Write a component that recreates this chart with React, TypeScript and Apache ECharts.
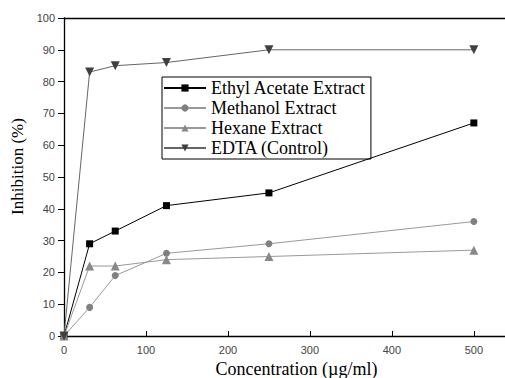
import React, { useEffect, useRef } from "react";
import * as echarts from "echarts";

const concentrations = [0, 31.25, 62.5, 125, 250, 500];
const ethylAcetate = [0, 29, 33, 41, 45, 67];
const methanol = [0, 9, 19, 26, 29, 36];
const hexane = [0, 22, 22, 24, 25, 27];
const edta = [0, 83, 85, 86, 90, 90];
const xTicks = [0, 100, 200, 300, 400, 500];

const pairs = (ys: number[]) => concentrations.map((x, i) => [x, ys[i]]);

export default function App() {
  const ref = useRef<HTMLDivElement>(null);
  useEffect(() => {
    if (!ref.current) return;
    const chart = echarts.init(ref.current, null, { renderer: "svg" });
    const serif = "'Liberation Serif', 'Times New Roman', serif";
    const sans = "'Liberation Sans', Arial, sans-serif";
    chart.setOption({
      animation: false,
      backgroundColor: "#fff",
      grid: { left: 64, top: 18, right: 0, bottom: 42, outerBoundsMode: "none" },
      legend: {
        orient: "vertical",
        left: 162,
        top: 77,
        itemWidth: 42,
        itemHeight: 9,
        itemGap: 2,
        padding: [2, 5, 2, 1],
        borderColor: "#000",
        borderWidth: 1,
        textStyle: { fontFamily: serif, fontSize: 18, color: "#000" },
        data: ["Ethyl Acetate Extract", "Methanol Extract", "Hexane Extract", "EDTA (Control)"],
      },
      xAxis: [
        {
          type: "value",
          min: 0,
          max: 538,
          interval: 100,
          name: "Concentration (\u00b5g/ml)",
          nameLocation: "middle",
          nameGap: 24,
          nameTextStyle: { fontFamily: serif, fontSize: 18, color: "#000", padding: [0, 0, 0, 24] },
          axisLine: { show: true, lineStyle: { color: "#000", width: 1.3 } },
          axisTick: { show: true, inside: true, length: 5, customValues: xTicks, lineStyle: { color: "#000" } },
          axisLabel: { customValues: xTicks, fontFamily: sans, fontSize: 11, color: "#444", margin: 8 },
          splitLine: { show: false },
        },
        {
          type: "value",
          position: "top",
          min: 0,
          max: 538,
          axisLine: { show: true, lineStyle: { color: "#000", width: 1.3 } },
          axisTick: { show: false },
          axisLabel: { show: false },
          splitLine: { show: false },
        },
      ],
      yAxis: {
        type: "value",
        min: 0,
        max: 100,
        interval: 10,
        name: "Inhibition (%)",
        nameLocation: "middle",
        nameGap: 34,
        nameTextStyle: { fontFamily: serif, fontSize: 17, color: "#000", padding: [0, 0, 0, 21] },
        axisLine: { show: true, lineStyle: { color: "#000", width: 1.3 } },
        axisTick: { show: true, inside: false, length: 6, lineStyle: { color: "#000" } },
        axisLabel: { fontFamily: sans, fontSize: 11, color: "#444", margin: 9 },
        splitLine: { show: false },
      },
      series: [
        {
          name: "Ethyl Acetate Extract",
          type: "line",
          data: pairs(ethylAcetate),
          symbol: "rect",
          symbolSize: 7,
          itemStyle: { color: "#000" },
          lineStyle: { color: "#000", width: 1 },
        },
        {
          name: "Methanol Extract",
          type: "line",
          data: pairs(methanol),
          symbol: "circle",
          symbolSize: 7,
          itemStyle: { color: "#808080" },
          lineStyle: { color: "#999", width: 1 },
        },
        {
          name: "Hexane Extract",
          type: "line",
          data: pairs(hexane),
          symbol: "triangle",
          symbolSize: 9,
          itemStyle: { color: "#888" },
          lineStyle: { color: "#999", width: 1 },
        },
        {
          name: "EDTA (Control)",
          type: "line",
          data: pairs(edta),
          symbol: "path://M0,0 L10,0 L5,10 Z",
          symbolSize: 9,
          itemStyle: { color: "#404040" },
          lineStyle: { color: "#666", width: 1 },
        },
      ],
    });
    return () => chart.dispose();
  }, []);
  return (
    <div
      ref={ref}
      style={{ position: "absolute", left: 0, top: 0, width: 505, height: 378, background: "#fff" }}
    />
  );
}
